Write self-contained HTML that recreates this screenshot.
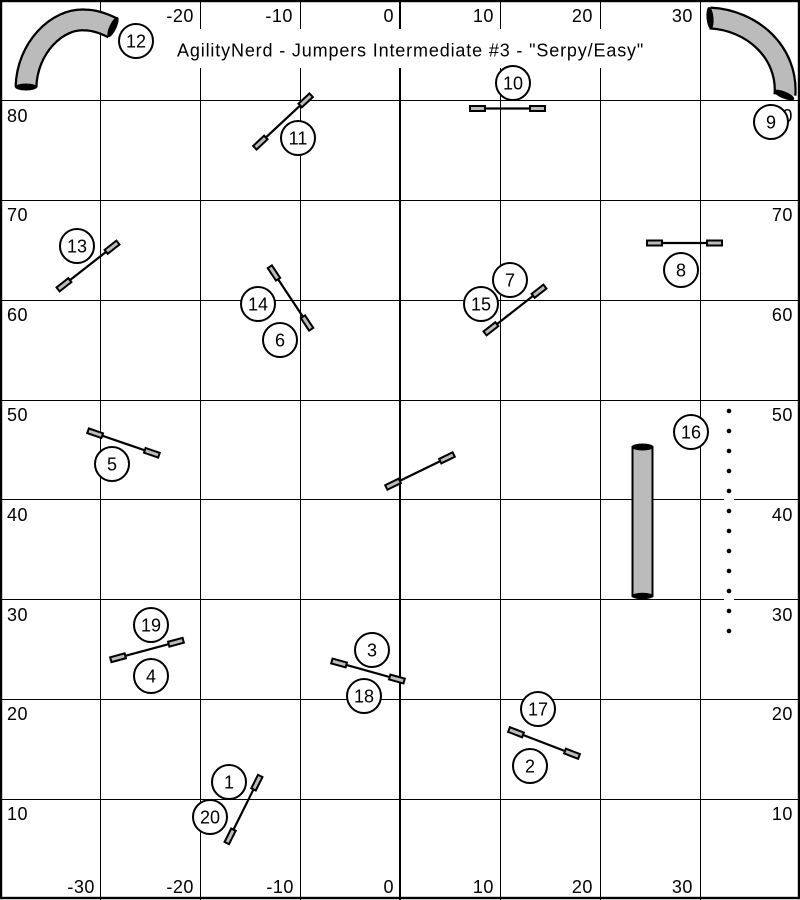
<!DOCTYPE html>
<html><head><meta charset="utf-8"><style>
html,body{margin:0;padding:0;background:#fff}
svg{display:block}
text{font-family:"Liberation Sans",sans-serif;font-size:18px;letter-spacing:.55px;fill:#000}
.t{letter-spacing:.85px}
.j line{stroke:#000;stroke-width:2.2}
.j rect{fill:#bbb;stroke:#000;stroke-width:2}
.g{stroke:#000;stroke-width:1;shape-rendering:crispEdges}
.n circle{fill:#fff;stroke:#000;stroke-width:2}
.n text{text-anchor:middle;font-size:18px;letter-spacing:0}
.e{text-anchor:end}
</style></head><body>
<svg width="800" height="900" viewBox="0 0 800 900" xmlns="http://www.w3.org/2000/svg">
<rect width="800" height="900" fill="#fff"/>
<g class="g">
<line x1="100.5" y1="0" x2="100.5" y2="900"/><line x1="200.5" y1="0" x2="200.5" y2="900"/><line x1="300.5" y1="0" x2="300.5" y2="900"/>
<line x1="500.5" y1="0" x2="500.5" y2="900"/><line x1="600.5" y1="0" x2="600.5" y2="900"/><line x1="700.5" y1="0" x2="700.5" y2="900"/>
<line x1="0" y1="100.5" x2="800" y2="100.5"/><line x1="0" y1="200.5" x2="800" y2="200.5"/><line x1="0" y1="300.5" x2="800" y2="300.5"/>
<line x1="0" y1="400.5" x2="800" y2="400.5"/><line x1="0" y1="499.5" x2="800" y2="499.5"/><line x1="0" y1="599.5" x2="800" y2="599.5"/>
<line x1="0" y1="699.5" x2="800" y2="699.5"/><line x1="0" y1="799.5" x2="800" y2="799.5"/>
</g>
<line x1="400" y1="0" x2="400" y2="900" stroke="#000" stroke-width="2"/>
<rect x="1" y="1" width="798" height="897" fill="none" stroke="#000" stroke-width="2.4"/>
<rect x="170" y="29" width="482" height="39" fill="#fff"/>
<text class="t" x="177" y="56.5">AgilityNerd - Jumpers Intermediate #3 - "Serpy/Easy"</text>

<text x="194" y="22" class="e">-20</text><text x="293" y="22" class="e">-10</text><text x="394" y="22" class="e">0</text>
<text x="494" y="22" class="e">10</text><text x="593" y="22" class="e">20</text><text x="693" y="22" class="e">30</text>
<text x="95" y="893" class="e">-30</text><text x="194" y="893" class="e">-20</text><text x="294" y="893" class="e">-10</text><text x="394" y="893" class="e">0</text>
<text x="494" y="893" class="e">10</text><text x="593" y="893" class="e">20</text><text x="693" y="893" class="e">30</text>

<text x="7" y="122">80</text><text x="7" y="221">70</text><text x="7" y="321">60</text><text x="7" y="421">50</text>
<text x="7" y="521">40</text><text x="7" y="621">30</text><text x="7" y="720">20</text><text x="7" y="820">10</text>
<text x="793" y="122" class="e">80</text><text x="793" y="221" class="e">70</text><text x="793" y="321" class="e">60</text><text x="793" y="421" class="e">50</text>
<text x="793" y="521" class="e">40</text><text x="793" y="621" class="e">30</text><text x="793" y="720" class="e">20</text><text x="793" y="820" class="e">10</text>

<g fill="#fff">
<rect x="724" y="496" width="10" height="6"/><rect x="724" y="596" width="10" height="6"/>
</g>
<g fill="#000">
<circle cx="729" cy="411" r="2.3"/><circle cx="729" cy="431" r="2.3"/><circle cx="729" cy="451" r="2.3"/><circle cx="729" cy="471" r="2.3"/>
<circle cx="729" cy="491" r="2.3"/><circle cx="729" cy="511" r="2.3"/><circle cx="729" cy="531" r="2.3"/><circle cx="729" cy="551" r="2.3"/>
<circle cx="729" cy="571" r="2.3"/><circle cx="729" cy="591" r="2.3"/><circle cx="729" cy="611" r="2.3"/><circle cx="729" cy="631" r="2.3"/>
</g>

<!-- jumps -->
<g class="j" transform="translate(283,121.5) rotate(-43)"><line x1="-30" y1="0" x2="30" y2="0"/><rect x="-38.5" y="-2.5" width="15" height="5"/><rect x="23.5" y="-2.5" width="15" height="5"/></g>
<g class="j" transform="translate(507.5,108.5)"><line x1="-30" y1="0" x2="30" y2="0"/><rect x="-37.5" y="-2.5" width="15" height="5"/><rect x="22.5" y="-2.5" width="15" height="5"/></g>
<g class="j" transform="translate(88,266) rotate(-38)"><line x1="-30" y1="0" x2="30" y2="0"/><rect x="-38" y="-2.5" width="15" height="5"/><rect x="23" y="-2.5" width="15" height="5"/></g>
<g class="j" transform="translate(290.5,298) rotate(56.5)"><line x1="-30" y1="0" x2="30" y2="0"/><rect x="-37.5" y="-2.5" width="15" height="5"/><rect x="22.5" y="-2.5" width="15" height="5"/></g>
<g class="j" transform="translate(515,310) rotate(-38)"><line x1="-30" y1="0" x2="30" y2="0"/><rect x="-38" y="-2.5" width="15" height="5"/><rect x="23" y="-2.5" width="15" height="5"/></g>
<g class="j" transform="translate(684.5,243)"><line x1="-30" y1="0" x2="30" y2="0"/><rect x="-37.5" y="-2.5" width="15" height="5"/><rect x="22.5" y="-2.5" width="15" height="5"/></g>
<g class="j" transform="translate(123.5,443) rotate(19)"><line x1="-30" y1="0" x2="30" y2="0"/><rect x="-37.5" y="-2.5" width="15" height="5"/><rect x="22.5" y="-2.5" width="15" height="5"/></g>
<g class="j" transform="translate(420,471) rotate(-26)"><line x1="-30" y1="0" x2="30" y2="0"/><rect x="-37.5" y="-2.5" width="15" height="5"/><rect x="22.5" y="-2.5" width="15" height="5"/></g>
<g class="j" transform="translate(147,650) rotate(-15)"><line x1="-30" y1="0" x2="30" y2="0"/><rect x="-37.5" y="-2.5" width="15" height="5"/><rect x="22.5" y="-2.5" width="15" height="5"/></g>
<g class="j" transform="translate(368,671) rotate(15.5)"><line x1="-30" y1="0" x2="30" y2="0"/><rect x="-37.5" y="-2.5" width="15" height="5"/><rect x="22.5" y="-2.5" width="15" height="5"/></g>
<g class="j" transform="translate(544,743) rotate(21)"><line x1="-30" y1="0" x2="30" y2="0"/><rect x="-37.5" y="-2.5" width="15" height="5"/><rect x="22.5" y="-2.5" width="15" height="5"/></g>
<g class="j" transform="translate(243.5,809.5) rotate(-63.5)"><line x1="-30" y1="0" x2="30" y2="0"/><rect x="-37.5" y="-2.5" width="15" height="5"/><rect x="22.5" y="-2.5" width="15" height="5"/></g>

<!-- tunnels -->
<path d="M26 87 C27 48 57 18 85 20 C95 20 105 24 113 28" fill="none" stroke="#000" stroke-width="23"/>
<path d="M26 87 C27 48 57 18 85 20 C95 20 105 24 113 28" fill="none" stroke="#bbb" stroke-width="18.5"/>
<ellipse cx="26" cy="87" rx="11" ry="3.5" fill="#000"/>
<ellipse cx="113" cy="27" rx="11" ry="3.5" fill="#000" transform="rotate(-65 113 27)"/>

<path d="M710 18 C752 20 788 52 785 95" fill="none" stroke="#000" stroke-width="23"/>
<path d="M710 18 C752 20 788 52 785 95" fill="none" stroke="#bbb" stroke-width="18.5"/>
<ellipse cx="710" cy="18" rx="11" ry="3.5" fill="#000" transform="rotate(85 710 18)"/>
<ellipse cx="784" cy="95" rx="11" ry="3.5" fill="#000" transform="rotate(22 784 95)"/>

<rect x="632.5" y="447" width="20" height="149" fill="#bbb" stroke="#000" stroke-width="2"/>
<ellipse cx="642.5" cy="447" rx="11" ry="3.5" fill="#000"/>
<ellipse cx="642.5" cy="596" rx="11" ry="3.2" fill="#000"/>

<!-- numbers -->
<g class="n"><circle cx="229" cy="782" r="17"/><text x="229" y="788.5">1</text></g>
<g class="n"><circle cx="530" cy="766" r="17"/><text x="530" y="772.5">2</text></g>
<g class="n"><circle cx="372" cy="650" r="17"/><text x="372" y="656.5">3</text></g>
<g class="n"><circle cx="151" cy="676" r="17"/><text x="151" y="682.5">4</text></g>
<g class="n"><circle cx="112" cy="464" r="17"/><text x="112" y="470.5">5</text></g>
<g class="n"><circle cx="280" cy="340" r="17"/><text x="280" y="346.5">6</text></g>
<g class="n"><circle cx="510" cy="280" r="17"/><text x="510" y="286.5">7</text></g>
<g class="n"><circle cx="681" cy="270" r="17"/><text x="681" y="276.5">8</text></g>
<g class="n"><circle cx="771" cy="122" r="17"/><text x="771" y="128.5">9</text></g>
<g class="n"><circle cx="513" cy="83" r="17"/><text x="513" y="89.5">10</text></g>
<g class="n"><circle cx="298" cy="138" r="17"/><text x="298" y="144.5">11</text></g>
<g class="n"><circle cx="136" cy="41" r="17"/><text x="136" y="47.5">12</text></g>
<g class="n"><circle cx="77" cy="246" r="17"/><text x="77" y="252.5">13</text></g>
<g class="n"><circle cx="258" cy="304" r="17"/><text x="258" y="310.5">14</text></g>
<g class="n"><circle cx="481" cy="304" r="17"/><text x="481" y="310.5">15</text></g>
<g class="n"><circle cx="691" cy="432" r="17"/><text x="691" y="438.5">16</text></g>
<g class="n"><circle cx="538" cy="709" r="17"/><text x="538" y="715.5">17</text></g>
<g class="n"><circle cx="364" cy="696" r="17"/><text x="364" y="702.5">18</text></g>
<g class="n"><circle cx="151" cy="625" r="17"/><text x="151" y="631.5">19</text></g>
<g class="n"><circle cx="210" cy="817" r="17"/><text x="210" y="823.5">20</text></g>
</svg>
</body></html>
